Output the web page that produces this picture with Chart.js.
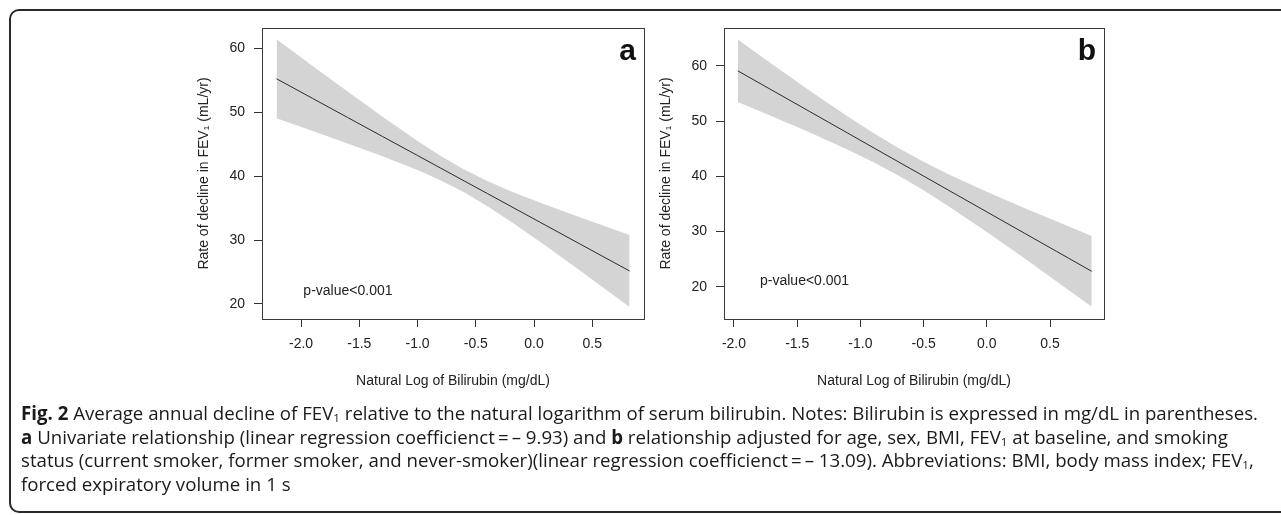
<!DOCTYPE html>
<html>
<head>
<meta charset="utf-8">
<title>Fig. 2 - FEV1 decline vs serum bilirubin</title>
<script src="https://cdn.jsdelivr.net/npm/chart.js@4.4.0/dist/chart.umd.min.js"></script>
<style>
    html, body { margin: 0; padding: 0; background: #fff; }
    body { width: 1281px; height: 515px; position: relative; overflow: hidden; }
    #frame {
        position: absolute; left: 9px; top: 9px; width: 1320px; height: 504px;
        border: 2px solid #2a2a2a; border-radius: 10px; box-sizing: border-box;
    }
    canvas { position: absolute; top: 0; }
    #chartA { left: 190px; }
    #chartB { left: 652px; }
    #caption {
        position: absolute; left: 21px; top: 401px;
        font-family: "Open Sans", "Noto Sans", sans-serif; font-size: 16px;
        line-height: 23.5px; color: #1a1a1a;
    }
    #caption span { display: inline-block; white-space: nowrap; }
    #caption sub { font-size: 62%; line-height: 0; vertical-align: -0.2em; }
</style>
</head>
<body>
<div id="frame"></div>
<canvas id="chartA" width="470" height="410"></canvas>
<canvas id="chartB" width="470" height="410"></canvas>
<div id="caption">
<span id="capLine1"><b>Fig. 2</b> Average annual decline of FEV<sub>1</sub> relative to the natural logarithm of serum bilirubin. Notes: Bilirubin is expressed in mg/dL in parentheses.</span><br>
<span><b>a</b> Univariate relationship (linear regression coefficienct&thinsp;=&thinsp;– 9.93) and <b>b</b> relationship adjusted for age, sex, BMI, FEV<sub>1</sub> at baseline, and smoking</span><br>
<span>status (current smoker, former smoker, and never-smoker)(linear regression coefficienct&thinsp;=&thinsp;– 13.09). Abbreviations: BMI, body mass index; FEV<sub>1</sub>,</span><br>
<span>forced expiratory volume in 1 s</span>
</div>

<script>
// Axis ticks (shared by both panels)
const xTickVals = [-2.0, -1.5, -1.0, -0.5, 0.0, 0.5];
const xTickLabels = ['-2.0', '-1.5', '-1.0', '-0.5', '0.0', '0.5'];
const yTickVals = [20, 30, 40, 50, 60];
const yTickLabels = ['20', '30', '40', '50', '60'];

// Panel a : univariate fit with confidence band
const xA = [-2.21, -1.9, -1.6, -1.3, -1.0, -0.8, -0.6, -0.4, -0.2, 0.1, 0.4, 0.82];
const fitA = [55.26, 52.18, 49.20, 46.22, 43.25, 41.26, 39.27, 37.29, 35.30, 32.32, 29.34, 25.17];
const upA = [61.44, 57.27, 53.26, 49.32, 45.53, 43.17, 41.06, 39.26, 37.67, 35.54, 33.53, 30.82];
const loA = [49.08, 47.09, 45.14, 43.12, 40.97, 39.35, 37.48, 35.32, 32.93, 29.10, 25.15, 19.52];

// Panel b : adjusted fit with confidence band
const xB = [-1.97, -1.7, -1.4, -1.1, -0.9, -0.7, -0.5, -0.3, 0.0, 0.3, 0.55, 0.83];
const fitB = [59.12, 55.62, 51.73, 47.84, 45.24, 42.65, 40.06, 37.46, 33.57, 29.68, 26.44, 22.81];
const upB = [64.78, 60.35, 55.52, 50.84, 47.89, 45.15, 42.65, 40.36, 37.21, 34.25, 31.86, 29.22];
const loB = [53.46, 50.89, 47.94, 44.84, 42.59, 40.15, 37.47, 34.56, 29.93, 25.11, 21.02, 16.40];

const yTitle = 'Rate of decline in FEV\u2081 (mL/yr)';
const xTitle = 'Natural Log of Bilirubin (mg/dL)';
const FONT = '"Liberation Sans", Arial, sans-serif';

Chart.defaults.font.family = FONT;
Chart.defaults.font.size = 14;
Chart.defaults.color = '#222';

/**
 * Box around the plot region, panel letter and p-value note (R-style).
 */
const panelDecor = {
    id: 'panelDecor',
    afterDraw(chart, args, o) {
        const { ctx, chartArea: a, scales } = chart;
        ctx.save();
        ctx.strokeStyle = '#3a3a3a';
        ctx.lineWidth = 1;
        ctx.strokeRect(a.left + 0.5, a.top + 0.5, a.right - a.left, a.bottom - a.top);

        ctx.fillStyle = '#111';
        ctx.font = 'bold 30px ' + FONT;
        ctx.textAlign = 'right';
        ctx.textBaseline = 'alphabetic';
        ctx.fillText(o.tag, a.right - 8, a.top + 32);

        ctx.fillStyle = '#222';
        ctx.font = '14px ' + FONT;
        ctx.textAlign = 'left';
        ctx.textBaseline = 'middle';
        ctx.fillText(o.note, scales.x.getPixelForValue(o.noteX), scales.y.getPixelForValue(o.noteY));
        ctx.restore();
    }
};

function points(xs, ys) {
    return xs.map((x, i) => ({ x: x, y: ys[i] }));
}

function buildPanel(canvasId, p) {
    return new Chart(document.getElementById(canvasId), {
        type: 'line',
        data: {
            datasets: [
                { data: points(p.x, p.fit), borderColor: '#2b2b2b', borderWidth: 1, pointRadius: 0, fill: false },
                { data: points(p.x, p.upper), borderWidth: 0, borderColor: 'rgba(0,0,0,0)', backgroundColor: '#d4d4d4', pointRadius: 0, fill: '+1' },
                { data: points(p.x, p.lower), borderWidth: 0, borderColor: 'rgba(0,0,0,0)', pointRadius: 0, fill: false }
            ]
        },
        options: {
            responsive: false,
            animation: false,
            devicePixelRatio: 1,
            layout: { padding: { left: 0, right: p.padRight, top: 28, bottom: 0 } },
            plugins: {
                legend: { display: false },
                tooltip: { enabled: false },
                panelDecor: { tag: p.tag, note: 'p-value<0.001', noteX: p.noteX, noteY: p.noteY }
            },
            scales: {
                x: {
                    type: 'linear',
                    min: p.xMin,
                    max: p.xMax,
                    afterBuildTicks: s => { s.ticks = xTickVals.map(v => ({ value: v })); },
                    afterFit: s => { s.height = 91; },
                    grid: { drawOnChartArea: false, drawTicks: true, tickLength: 8, color: '#333' },
                    border: { display: false },
                    ticks: { autoSkip: false, maxRotation: 0, padding: 9, callback: (v, i) => xTickLabels[i] },
                    title: { display: true, text: xTitle, padding: { top: 0, bottom: 20 } }
                },
                y: {
                    type: 'linear',
                    min: p.yMin,
                    max: p.yMax,
                    afterBuildTicks: s => { s.ticks = yTickVals.map(v => ({ value: v })); },
                    afterFit: s => { s.width = 72; },
                    grid: { drawOnChartArea: false, drawTicks: true, tickLength: 8, color: '#333' },
                    border: { display: false },
                    ticks: { autoSkip: false, padding: 9, callback: (v, i) => yTickLabels[i] },
                    title: { display: true, text: yTitle, padding: { top: p.yTitlePad, bottom: 0 } }
                }
            }
        },
        plugins: [panelDecor]
    });
}

buildPanel('chartA', {
    tag: 'a', x: xA, fit: fitA, upper: upA, lower: loA,
    xMin: -2.335, xMax: 0.944, yMin: 17.65, yMax: 63.21,
    padRight: 16, yTitlePad: 5.5, noteX: -1.98, noteY: 22.05
});

buildPanel('chartB', {
    tag: 'b', x: xB, fit: fitB, upper: upB, lower: loB,
    xMin: -2.079, xMax: 0.927, yMin: 14.17, yMax: 66.88,
    padRight: 18, yTitlePad: 5.5, noteX: -1.794, noteY: 21.09
});

// Fit the caption's first line to the width it has in the figure
const cap = document.getElementById('caption');
const line1 = document.getElementById('capLine1');
const w = line1.getBoundingClientRect().width;
cap.style.fontSize = (16 * 1238 / w) + 'px';
</script>
</body>
</html>
